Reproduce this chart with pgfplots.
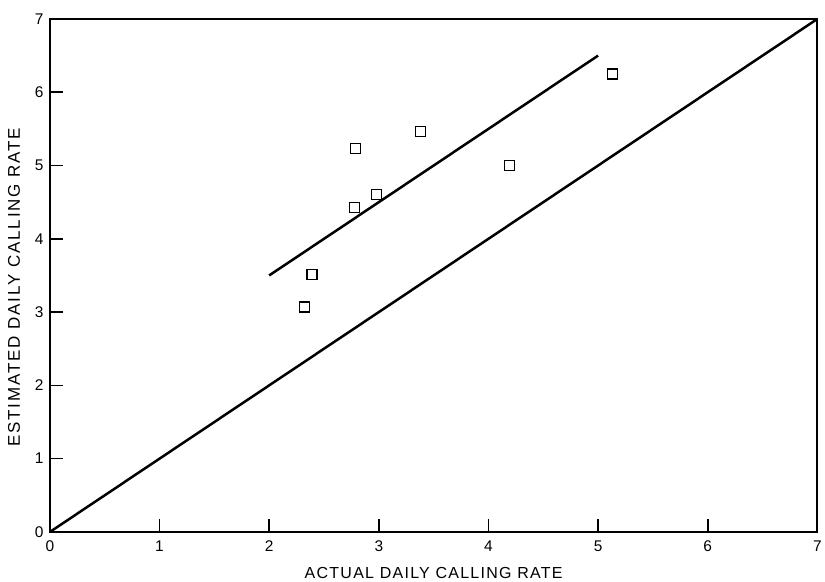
\documentclass[border=0pt]{standalone}
\usepackage{fontspec}
\setmainfont{Liberation Sans}
\usepackage{pgfplots}
\pgfplotsset{compat=1.18}
\begin{document}
\begin{tikzpicture}
\begin{axis}[
  scale only axis,
  width=769pt, height=514pt,
  xmin=0, xmax=7, ymin=0, ymax=7,
  xtick={0,...,7}, ytick={0,...,7},
  tick align=inside,
  xtick pos=bottom, ytick pos=left,
  major tick length=13pt,
  tick style={line width=1.6pt, black},
  axis line style={line width=1.8pt},
  /pgf/number format/assume math mode=true,
  ticklabel style={font=\fontsize{15.5}{18}\selectfont},
  xticklabel style={yshift=-5pt},
  yticklabel style={xshift=-3pt},
  xlabel={ACTUAL DAILY CALLING RATE},
  ylabel={ESTIMATED DAILY CALLING RATE},
  xlabel style={font=\fontsize{16}{18}\selectfont\addfontfeatures{LetterSpace=8}, yshift=-9pt},
  ylabel style={font=\fontsize{17}{19}\selectfont\addfontfeatures{LetterSpace=11}, yshift=8pt, xshift=-12pt},
  clip=false,
]
\addplot[black, line width=2.5pt] coordinates {(0,0) (7,7)};
\addplot[black, line width=2.5pt] coordinates {(2,3.5) (5,6.5)};
\addplot[only marks, mark=square, mark size=5pt, mark options={line width=1.3pt, black}] coordinates {
(2.32,3.07) (2.39,3.51) (2.78,4.43) (2.79,5.23) (2.98,4.60) (3.38,5.46) (4.19,5.00) (5.13,6.25)
};
\path (rel axis cs:0,1) ++(0,19pt);
\path (rel axis cs:0,0) ++(-50pt,-50pt);
\end{axis}
\end{tikzpicture}
\end{document}
